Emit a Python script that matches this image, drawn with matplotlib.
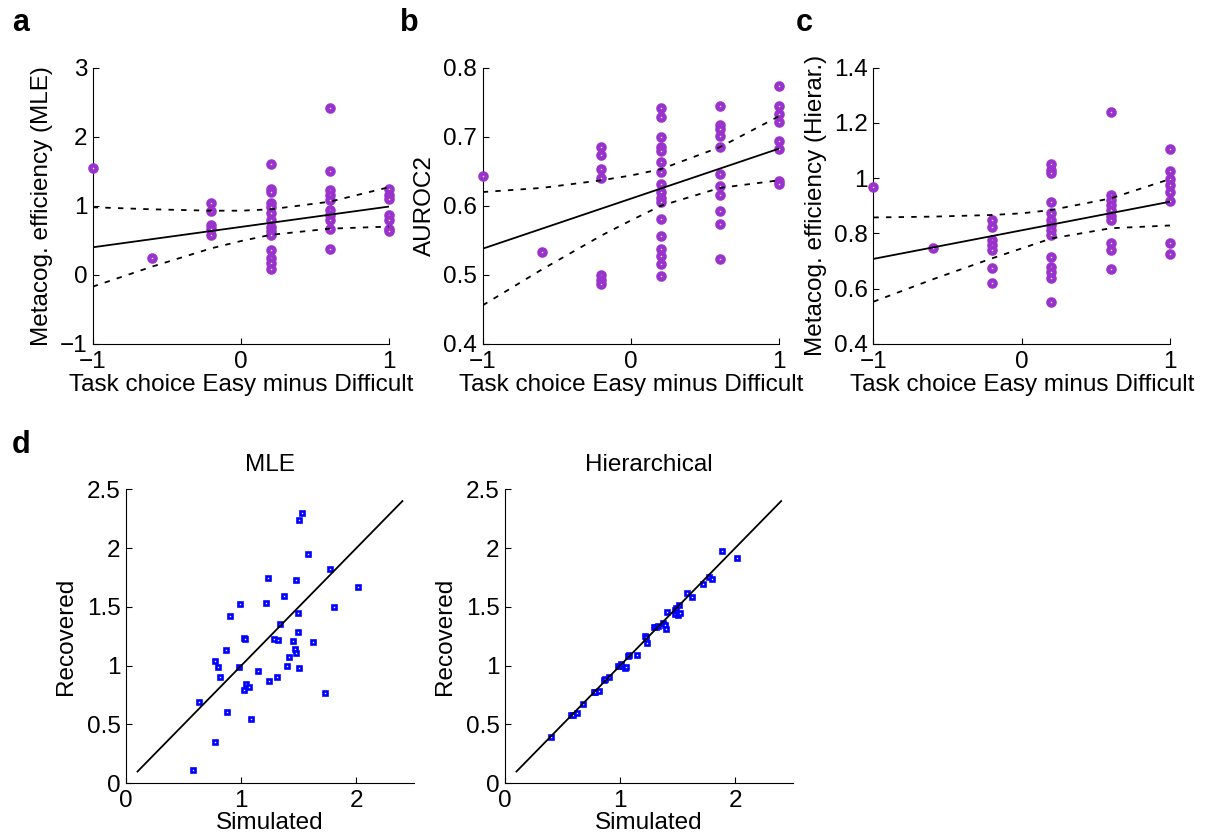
import numpy as np
import matplotlib
matplotlib.use('Agg')
import matplotlib.pyplot as plt

plt.rcParams['font.family'] = ['Liberation Sans', 'DejaVu Sans']
plt.rcParams['xtick.direction'] = 'in'
plt.rcParams['ytick.direction'] = 'in'

# task choice (easy minus difficult) per group
x_a_grp = [-1, -0.6, -0.2, 0.2, 0.6, 1]

# panel a: metacognitive efficiency (MLE)
mle_a = [
    [1.55],
    [0.24],
    [1.04, 0.92, 0.72, 0.66, 0.58],
    [1.61, 1.25, 1.20, 1.04, 0.99, 0.89, 0.80, 0.70, 0.63, 0.58, 0.36, 0.24, 0.17, 0.08],
    [2.41, 1.51, 1.23, 1.16, 1.08, 0.94, 0.87, 0.79, 0.67, 0.38],
    [1.24, 1.15, 1.10, 0.87, 0.80, 0.67, 0.63],
]
# panel b: AUROC2
auroc_b = [
    [0.643],
    [0.533],
    [0.685, 0.673, 0.653, 0.641, 0.500, 0.493, 0.487],
    [0.741, 0.729, 0.700, 0.685, 0.680, 0.663, 0.649, 0.632, 0.620, 0.612, 0.605,
     0.581, 0.557, 0.538, 0.528, 0.516, 0.498],
    [0.744, 0.717, 0.711, 0.701, 0.685, 0.646, 0.629, 0.615, 0.592, 0.574, 0.523],
    [0.774, 0.745, 0.733, 0.721, 0.694, 0.682, 0.636, 0.631],
]
# panel c: metacognitive efficiency (hierarchical)
hier_c = [
    [0.967],
    [0.746],
    [0.849, 0.825, 0.776, 0.758, 0.740, 0.674, 0.620],
    [1.051, 1.030, 1.018, 0.913, 0.873, 0.849, 0.831, 0.813, 0.794, 0.716, 0.680,
     0.662, 0.638, 0.553],
    [1.241, 0.939, 0.921, 0.903, 0.885, 0.863, 0.849, 0.767, 0.740, 0.670],
    [1.104, 1.027, 0.999, 0.975, 0.951, 0.917, 0.767, 0.724],
]

# regression fit and confidence band
band_x = [-1, -0.6, -0.2, 0, 0.2, 0.6, 1]
fit_a = [0.40, 0.99]
upper_a = [0.98, 0.95, 0.93, 0.93, 0.95, 1.06, 1.27]
lower_a = [-0.17, 0.12, 0.385, 0.49, 0.58, 0.67, 0.70]
fit_b = [0.538, 0.683]
upper_b = [0.620, 0.626, 0.637, 0.644, 0.653, 0.685, 0.730]
lower_b = [0.456, 0.508, 0.557, 0.579, 0.600, 0.626, 0.637]
fit_c = [0.708, 0.915]
upper_c = [0.858, 0.861, 0.867, 0.873, 0.885, 0.927, 0.997]
lower_c = [0.553, 0.634, 0.710, 0.746, 0.782, 0.819, 0.829]

# panel d: parameter recovery
sim_mle = [0.578, 0.630, 0.777, 0.777, 0.803, 0.818, 0.867, 0.873, 0.899, 0.977,
           0.986, 1.023, 1.035, 1.023, 1.046, 1.069, 1.087, 1.142, 1.217, 1.231,
           1.240, 1.289, 1.318, 1.312, 1.338, 1.376, 1.402, 1.413, 1.451, 1.471,
           1.477, 1.477, 1.491, 1.497, 1.506, 1.506, 1.526, 1.584, 1.624, 1.725,
           1.769, 1.803, 2.017]
rec_mle = [0.113, 0.692, 0.354, 1.043, 0.989, 0.901, 1.134, 0.607, 1.423, 0.986,
           1.528, 1.239, 1.227, 0.794, 0.845, 0.822, 0.550, 0.952, 1.536, 1.749,
           0.873, 1.230, 1.219, 0.907, 1.352, 1.596, 1.001, 1.071, 1.207, 1.142,
           1.111, 1.729, 1.448, 1.287, 0.981, 2.236, 2.302, 1.950, 1.205, 0.765,
           1.823, 1.497, 1.672]
sim_hier = [0.399, 0.578, 0.590, 0.630, 0.679, 0.770, 0.780, 0.818, 0.860, 0.873,
            0.902, 0.983, 1.000, 1.012, 1.046, 1.055, 1.069, 1.080, 1.147, 1.220,
            1.223, 1.237, 1.295, 1.310, 1.329, 1.373, 1.390, 1.402, 1.407, 1.474,
            1.480, 1.490, 1.506, 1.511, 1.520, 1.581, 1.624, 1.720, 1.772, 1.801,
            1.888, 2.020]
rec_hier = [0.396, 0.581, 0.580, 0.595, 0.674, 0.780, 0.779, 0.788, 0.880, 0.887,
            0.907, 0.997, 1.000, 1.014, 0.983, 0.990, 1.082, 1.090, 1.091, 1.250,
            1.241, 1.196, 1.327, 1.330, 1.340, 1.366, 1.350, 1.315, 1.457, 1.474,
            1.440, 1.490, 1.431, 1.516, 1.450, 1.616, 1.582, 1.695, 1.752, 1.737,
            1.978, 1.913]
identity = [0.1, 2.4]

purple = (0.6, 0.2, 0.8)
fs_tick, fs_lab = 17.5, 17.5

fig = plt.figure(figsize=(12.15, 8.38), dpi=100)


def style(ax):
    for s in ['top', 'right']:
        ax.spines[s].set_visible(False)
    ax.tick_params(labelsize=fs_tick, length=4, width=0.8)
    ax.tick_params(axis='x', pad=5)
    ax.tick_params(axis='y', pad=4)


def top_panel(rect, groups, fit, upper, lower, ylim, yticks, ylabel):
    ax = fig.add_axes(rect)
    for xg, vals in zip(x_a_grp, groups):
        ax.plot([xg] * len(vals), vals, 'o', color=purple, mfc='white',
                mec=purple, ms=4.4, mew=3.2, clip_on=False, zorder=3)
    ax.plot([-1, 1], fit, '-', color='k', lw=1.3, zorder=4)
    ax.plot(band_x, upper, color='k', lw=1.3, ls=(0, (3.0, 4.0)), zorder=4)
    ax.plot(band_x, lower, color='k', lw=1.3, ls=(0, (3.0, 4.0)), zorder=4)
    ax.set_xlim(-1, 1)
    ax.set_ylim(*ylim)
    ax.set_xticks([-1, 0, 1])
    ax.set_yticks(yticks)
    ax.set_xlabel('Task choice Easy minus Difficult', fontsize=fs_lab, labelpad=1)
    ax.set_ylabel(ylabel, fontsize=fs_lab, labelpad=5)
    style(ax)
    return ax


top_panel([0.0763, 0.5895, 0.2439, 0.3297], mle_a, fit_a, upper_a, lower_a,
          (-1, 3), [-1, 0, 1, 2, 3], 'Metacog. efficiency (MLE)')
top_panel([0.3973, 0.5895, 0.2441, 0.3297], auroc_b, fit_b, upper_b, lower_b,
          (0.4, 0.8), [0.4, 0.5, 0.6, 0.7, 0.8], 'AUROC2')
ax_c = top_panel([0.7188, 0.5895, 0.2442, 0.3297], hier_c, fit_c, upper_c, lower_c,
                 (0.4, 1.4), [0.4, 0.6, 0.8, 1.0, 1.2, 1.4], 'Metacog. efficiency (Hierar.)')
ax_c.set_yticklabels(['0.4', '0.6', '0.8', '1', '1.2', '1.4'])


def recovery_panel(rect, sim, rec, title):
    ax = fig.add_axes(rect)
    ax.plot(sim, rec, 's', color='b', mfc='white', mec='b', ms=3.0, mew=1.9,
            zorder=3)
    ax.plot(identity, identity, '-', color='k', lw=1.3, zorder=4)
    ax.set_xlim(0, 2.5)
    ax.set_ylim(0, 2.5)
    ax.set_xticks([0, 1, 2])
    ax.set_yticks([0, 0.5, 1, 1.5, 2, 2.5])
    ax.set_yticklabels(['0', '0.5', '1', '1.5', '2', '2.5'])
    ax.set_xlabel('Simulated', fontsize=fs_lab, labelpad=0)
    ax.set_ylabel('Recovered', fontsize=fs_lab, labelpad=7)
    ax.set_title(title, fontsize=fs_lab, pad=13)
    style(ax)
    return ax


recovery_panel([0.1037, 0.0653, 0.2370, 0.3508], sim_mle, rec_mle, 'MLE')
recovery_panel([0.4156, 0.0653, 0.2368, 0.3508], sim_hier, rec_hier, 'Hierarchical')

for lab, x, y in [('a', 12, 31), ('b', 400, 31), ('c', 796, 31), ('d', 12, 453)]:
    fig.text(x / 1215, 1 - y / 838, lab, fontsize=22, fontweight='bold',
             va='baseline', ha='left')

fig.savefig('out.png', dpi=100)
